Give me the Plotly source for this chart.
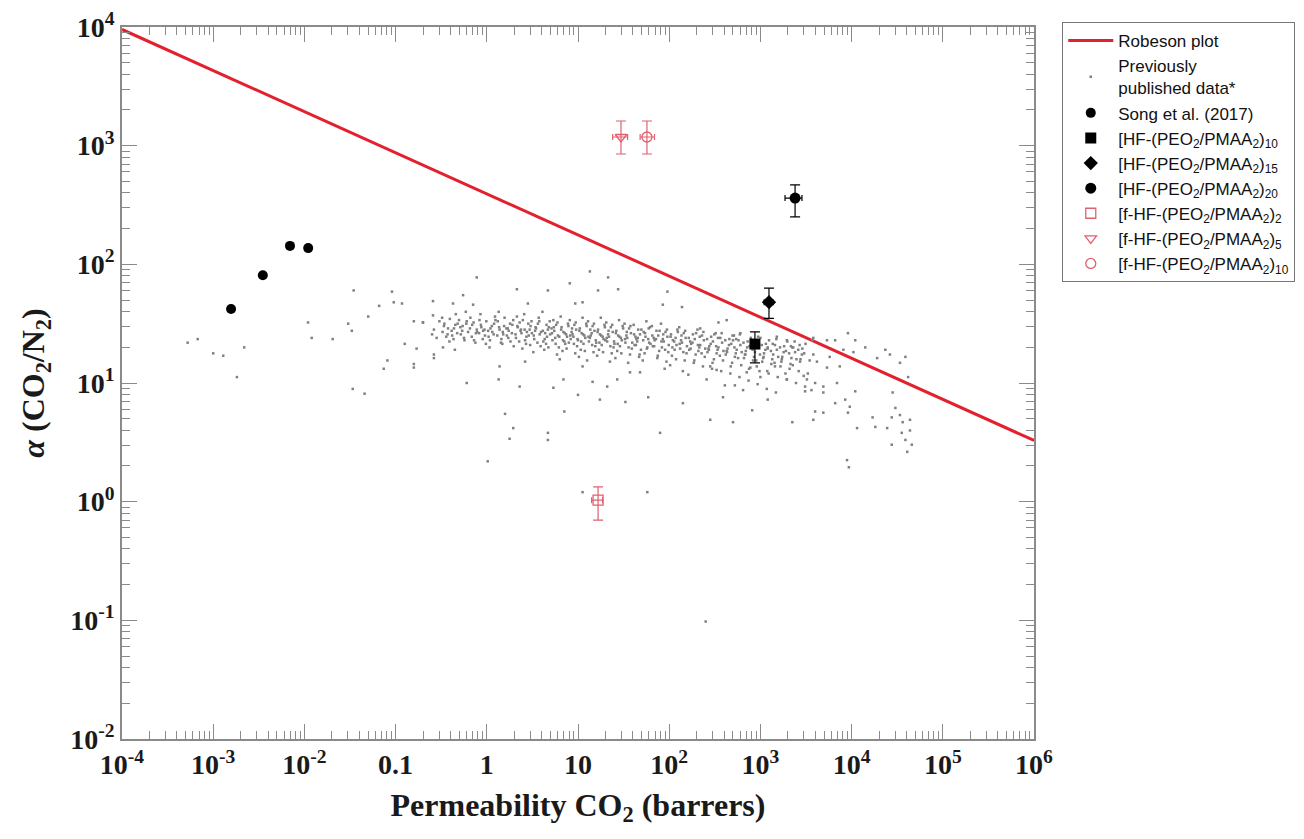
import plotly.graph_objects as go

# ---------------- data ----------------
robeson_perm = [1e-4, 1e6]
robeson_alpha = [9530, 3.28]

# previously published data (log10 values)
prev_log_perm = [
    -3.28, -3.17, -3.00, -2.89, -2.66, -2.74, -1.96, -1.92, -1.69, -1.52, -1.48, -1.46, -1.30, -1.18,
    -1.04, -1.02, -0.93, -0.80, -0.70, -0.90, -0.77, -1.09, -1.13, -0.80, -0.80, -1.47, -1.34,
    2.40, 1.76, 1.05, 0.01, 3.97,
    -0.59, -0.70, -0.59, -0.60, -0.58, -0.58, -0.48, -0.35, -0.22, -0.11, -0.26, -0.37, -0.15,
    0.14, 0.13, 0.20, 0.29, 0.25, 0.67, 0.67, 0.85, 1.00, 1.24, 1.52, 0.33, 0.67, 0.91, 1.13,
    1.22, 1.33, 1.44, 0.45, 0.97, 1.05, 0.36, 0.73, 0.84, 0.42, 1.05, 1.16, 1.32, 1.43, 1.57, 1.68,
    1.98, 2.14, 1.93, 2.34, 2.54, 2.63, 1.77, 2.15, 2.45, 2.70, 1.90, 3.08, 2.91, 3.35, 3.58,
    2.72, 2.59, 3.16, 3.29, 3.49, 3.51, 3.35, 3.43, 3.57, 3.29, 3.18, 3.08, 3.00, 2.78, 2.70,
    2.52, 2.45, 2.85, 3.00, 2.96,
    3.58, 3.73, 3.82, 3.96, 4.04, 4.15, 4.37, 4.42, 4.59, 4.28, 4.53, 4.02, 3.91, 3.76, 3.62,
    3.73, 3.87, 3.60, 3.69, 3.69, 3.84, 3.82, 3.93, 3.98, 4.04, 3.60, 3.69, 3.96, 4.06, 4.23,
    4.26, 4.44, 4.53, 4.56, 4.64, 4.48, 4.55, 4.59, 4.66, 4.44, 4.39, 4.64, 4.61, 4.45, 4.62, 3.95,
    -0.58, -0.52, -0.55,
    -0.47, -0.43, -0.49, -0.41,
    -0.36, -0.32, -0.38, -0.34,
    -0.27, -0.22, -0.25, -0.29, -0.23,
    -0.16, -0.12, -0.18, -0.14, -0.11,
    -0.06, -0.02, -0.08, -0.04, -0.01, -0.07,
    0.04, 0.08, 0.02, 0.06, 0.09, 0.03,
    0.14, 0.18, 0.12, 0.16, 0.19, 0.13, 0.17,
    0.24, 0.28, 0.22, 0.26, 0.29, 0.23,
    0.34, 0.38, 0.32, 0.36, 0.39, 0.33, 0.37,
    0.44, 0.48, 0.42, 0.46, 0.49, 0.43, 0.47, 0.41,
    0.54, 0.58, 0.52, 0.56, 0.59, 0.53, 0.57, 0.51,
    0.64, 0.68, 0.62, 0.66, 0.69, 0.63, 0.67, 0.61, 0.65,
    0.74, 0.78, 0.72, 0.76, 0.79, 0.73, 0.77, 0.71, 0.75,
    0.84, 0.88, 0.82, 0.86, 0.89, 0.83, 0.87, 0.81, 0.85, 0.80,
    0.94, 0.98, 0.92, 0.96, 0.99, 0.93, 0.97, 0.91, 0.95, 0.90,
    1.04, 1.08, 1.02, 1.06, 1.09, 1.03, 1.07, 1.01, 1.05, 1.00,
    1.14, 1.18, 1.12, 1.16, 1.19, 1.13, 1.17, 1.11, 1.15, 1.10,
    1.24, 1.28, 1.22, 1.26, 1.29, 1.23, 1.27, 1.21, 1.25, 1.20,
    1.34, 1.38, 1.32, 1.36, 1.39, 1.33, 1.37, 1.31, 1.35, 1.30,
    1.44, 1.48, 1.42, 1.46, 1.49, 1.43, 1.47, 1.41, 1.45, 1.40,
    1.54, 1.58, 1.52, 1.56, 1.59, 1.53, 1.57, 1.51, 1.55,
    1.64, 1.68, 1.62, 1.66, 1.69, 1.63, 1.67, 1.61, 1.65,
    1.74, 1.78, 1.72, 1.76, 1.79, 1.73, 1.77, 1.71, 1.75,
    1.84, 1.88, 1.82, 1.86, 1.89, 1.83, 1.87, 1.81,
    1.94, 1.98, 1.92, 1.96, 1.99, 1.93, 1.97, 1.91, 1.95,
    2.04, 2.08, 2.02, 2.06, 2.09, 2.03, 2.07, 2.01,
    2.14, 2.18, 2.12, 2.16, 2.19, 2.13, 2.17, 2.11, 2.15,
    2.24, 2.28, 2.22, 2.26, 2.29, 2.23, 2.27, 2.21,
    2.34, 2.38, 2.32, 2.36, 2.39, 2.33, 2.37, 2.31,
    2.44, 2.48, 2.42, 2.46, 2.49, 2.43, 2.47, 2.41,
    2.54, 2.58, 2.52, 2.56, 2.59, 2.53, 2.57, 2.51,
    2.64, 2.68, 2.62, 2.66, 2.69, 2.63, 2.67, 2.61,
    2.74, 2.78, 2.72, 2.76, 2.79, 2.73, 2.77, 2.71,
    2.84, 2.88, 2.82, 2.86, 2.89, 2.83, 2.87, 2.81,
    2.94, 2.98, 2.92, 2.96, 2.99, 2.93, 2.97,
    3.04, 3.08, 3.02, 3.06, 3.09, 3.03, 3.07,
    3.14, 3.18, 3.12, 3.16, 3.19, 3.13, 3.17,
    3.24, 3.28, 3.22, 3.26, 3.29, 3.23,
    3.34, 3.38, 3.32, 3.36, 3.39, 3.33,
    3.44, 3.48, 3.42, 3.46, 3.49,
    3.54, 3.58, 3.52, 3.56,
]
prev_log_alpha = [
    1.34, 1.37, 1.25, 1.23, 1.30, 1.05, 1.51, 1.38, 1.37, 1.50, 1.44, 1.78, 1.56, 1.65,
    1.77, 1.68, 1.67, 1.52, 1.51, 1.33, 1.29, 1.19, 1.12, 1.16, 1.13, 0.95, 0.91,
    -1.01, 0.08, 0.08, 0.34, 0.29,
    1.69, 1.51, 1.57, 1.41, 1.24, 1.21, 1.30, 1.28, 1.00, 1.89, 1.74, 1.67, 1.66,
    1.14, 1.03, 0.74, 0.62, 0.53, 0.58, 0.52, 0.76, 0.90, 0.86, 0.84, 1.79, 1.78, 1.84, 1.94,
    1.78, 1.89, 1.79, 1.67, 1.67, 1.68, 0.97, 0.96, 1.03, 1.18, 1.14, 1.01, 0.97, 1.03, 1.09, 1.09,
    1.77, 1.64, 1.66, 1.46, 1.51, 1.53, 0.88, 0.83, 0.69, 0.67, 0.58, 0.86, 0.77, 0.67, 0.69,
    0.98, 0.88, 1.14, 1.03, 0.93, 1.03, 1.30, 1.32, 1.36, 1.36, 1.39, 1.30, 1.38, 1.42, 1.36,
    1.11, 1.14, 1.09, 1.05, 1.14,
    1.38, 1.36, 1.36, 1.42, 1.36, 1.30, 1.28, 1.24, 1.22, 1.21, 1.17, 1.26, 1.28, 1.22, 1.18,
    1.13, 1.14, 1.00, 0.97, 0.92, 1.00, 0.83, 0.86, 0.80, 0.93, 0.76, 0.75, 0.75, 0.62, 0.71,
    0.63, 0.71, 0.73, 0.67, 0.69, 0.79, 0.58, 0.52, 0.48, 0.48, 0.62, 0.60, 0.42, 0.92, 1.05, 0.35,
    1.45, 1.52, 1.38,
    1.48, 1.41, 1.55, 1.35,
    1.46, 1.50, 1.40, 1.58,
    1.44, 1.52, 1.38, 1.47, 1.60,
    1.49, 1.42, 1.55, 1.36, 1.45,
    1.47, 1.40, 1.53, 1.44, 1.33, 1.58,
    1.46, 1.50, 1.39, 1.43, 1.56, 1.30,
    1.45, 1.41, 1.52, 1.37, 1.48, 1.60, 1.33,
    1.44, 1.49, 1.40, 1.35, 1.53, 1.46,
    1.47, 1.42, 1.38, 1.51, 1.29, 1.56, 1.44,
    1.43, 1.48, 1.36, 1.40, 1.52, 1.33, 1.45, 1.58,
    1.46, 1.41, 1.37, 1.50, 1.31, 1.44, 1.55, 1.26,
    1.42, 1.47, 1.35, 1.39, 1.52, 1.28, 1.45, 1.60, 1.33,
    1.44, 1.40, 1.36, 1.49, 1.30, 1.53, 1.24, 1.46, 1.38,
    1.43, 1.39, 1.47, 1.33, 1.50, 1.27, 1.41, 1.56, 1.35, 1.20,
    1.41, 1.45, 1.37, 1.49, 1.31, 1.43, 1.25, 1.53, 1.39, 1.34,
    1.42, 1.38, 1.46, 1.33, 1.50, 1.28, 1.40, 1.22, 1.55, 1.36,
    1.40, 1.44, 1.35, 1.48, 1.31, 1.38, 1.26, 1.52, 1.42, 1.19,
    1.41, 1.37, 1.45, 1.32, 1.49, 1.28, 1.39, 1.23, 1.55, 1.34,
    1.39, 1.43, 1.35, 1.47, 1.30, 1.41, 1.25, 1.51, 1.18, 1.36,
    1.40, 1.36, 1.44, 1.31, 1.48, 1.27, 1.38, 1.21, 1.53, 1.33,
    1.38, 1.42, 1.34, 1.46, 1.29, 1.40, 1.24, 1.50, 1.17,
    1.37, 1.41, 1.32, 1.45, 1.28, 1.39, 1.22, 1.49, 1.35,
    1.39, 1.34, 1.43, 1.30, 1.47, 1.25, 1.37, 1.19, 1.52,
    1.36, 1.40, 1.31, 1.44, 1.27, 1.38, 1.21, 1.48,
    1.35, 1.39, 1.30, 1.43, 1.26, 1.37, 1.18, 1.50, 1.12,
    1.36, 1.32, 1.41, 1.28, 1.45, 1.23, 1.38, 1.15,
    1.34, 1.38, 1.29, 1.42, 1.25, 1.36, 1.19, 1.47, 1.10,
    1.33, 1.37, 1.28, 1.41, 1.24, 1.35, 1.17, 1.07,
    1.32, 1.36, 1.27, 1.40, 1.22, 1.30, 1.14, 1.45,
    1.31, 1.35, 1.26, 1.39, 1.20, 1.29, 1.12, 1.03,
    1.30, 1.34, 1.25, 1.38, 1.19, 1.28, 1.10, 1.42,
    1.29, 1.33, 1.24, 1.37, 1.17, 1.27, 1.08, 0.98,
    1.28, 1.32, 1.22, 1.36, 1.15, 1.25, 1.05, 1.40,
    1.27, 1.31, 1.21, 1.35, 1.13, 1.24, 1.02, 0.94,
    1.26, 1.30, 1.19, 1.34, 1.10, 1.22, 0.99,
    1.25, 1.29, 1.18, 1.33, 1.08, 1.21, 0.95,
    1.24, 1.28, 1.16, 1.32, 1.05, 1.20, 0.92,
    1.22, 1.27, 1.14, 1.31, 1.03, 1.18,
    1.21, 1.26, 1.12, 1.30, 1.00, 1.16,
    1.20, 1.25, 1.10, 1.29, 0.97,
    1.19, 1.24, 1.08, 0.94,
]

# second layer of the dense band of previously published data (log10 values)
band_log_perm = [
    -0.485, -0.465, -0.445, -0.425, -0.405,
    -0.385, -0.365, -0.345, -0.325, -0.305,
    -0.285, -0.265, -0.245, -0.225, -0.205,
    -0.185, -0.165, -0.145, -0.125, -0.105,
    -0.085, -0.065, -0.045, -0.025, -0.005,
    0.015, 0.035, 0.055, 0.075, 0.095,
    0.115, 0.135, 0.155, 0.175, 0.195,
    0.215, 0.235, 0.255, 0.275, 0.295,
    0.315, 0.335, 0.355, 0.375, 0.395,
    0.415, 0.435, 0.455, 0.475, 0.495,
    0.515, 0.535, 0.555, 0.575, 0.595,
    0.615, 0.635, 0.655, 0.675, 0.695,
    0.715, 0.735, 0.755, 0.775, 0.795,
    0.815, 0.835, 0.855, 0.875, 0.895,
    0.915, 0.935, 0.955, 0.975, 0.995,
    1.015, 1.035, 1.055, 1.075, 1.095,
    1.115, 1.135, 1.155, 1.175, 1.195,
    1.215, 1.235, 1.255, 1.275, 1.295,
    1.315, 1.335, 1.355, 1.375, 1.395,
    1.415, 1.435, 1.455, 1.475, 1.495,
    1.515, 1.535, 1.555, 1.575, 1.595,
    1.615, 1.635, 1.655, 1.675, 1.695,
    1.715, 1.735, 1.755, 1.775, 1.795,
    1.815, 1.835, 1.855, 1.875, 1.895,
    1.915, 1.935, 1.955, 1.975, 1.995,
    2.015, 2.035, 2.055, 2.075, 2.095,
    2.115, 2.135, 2.155, 2.175, 2.195,
    2.215, 2.235, 2.255, 2.275, 2.295,
    2.315, 2.335, 2.355, 2.375, 2.395,
    2.415, 2.435, 2.455, 2.475, 2.495,
    2.515, 2.535, 2.555, 2.575, 2.595,
    2.615, 2.635, 2.655, 2.675, 2.695,
    2.715, 2.735, 2.755, 2.775, 2.795,
    2.815, 2.835, 2.855, 2.875, 2.895,
    2.915, 2.935, 2.955, 2.975, 2.995,
    3.015, 3.035, 3.055, 3.075, 3.095,
    3.115, 3.135, 3.155, 3.175, 3.195,
    3.215, 3.235, 3.255, 3.275, 3.295,
    3.315, 3.335, 3.355, 3.375, 3.395,
    3.415, 3.435, 3.455, 3.475, 3.495,
]
band_log_alpha = [
    1.43, 1.50, 1.39, 1.46, 1.54,
    1.44, 1.37, 1.49, 1.42, 1.53,
    1.41, 1.48, 1.36, 1.50, 1.43,
    1.46, 1.39, 1.51, 1.34, 1.43,
    1.42, 1.49, 1.37, 1.45, 1.52,
    1.44, 1.36, 1.48, 1.41, 1.53,
    1.40, 1.47, 1.34, 1.43, 1.55,
    1.46, 1.38, 1.50, 1.42, 1.31,
    1.41, 1.48, 1.35, 1.45, 1.53,
    1.45, 1.39, 1.50, 1.32, 1.42,
    1.40, 1.47, 1.34, 1.52, 1.43,
    1.44, 1.37, 1.49, 1.30, 1.41,
    1.42, 1.47, 1.33, 1.51, 1.39,
    1.45, 1.36, 1.42, 1.29, 1.48,
    1.40, 1.46, 1.33, 1.51, 1.37,
    1.44, 1.35, 1.41, 1.27, 1.48,
    1.39, 1.45, 1.32, 1.50, 1.36,
    1.43, 1.34, 1.40, 1.26, 1.47,
    1.38, 1.44, 1.31, 1.49, 1.35,
    1.42, 1.33, 1.39, 1.25, 1.46,
    1.37, 1.43, 1.30, 1.48, 1.34,
    1.41, 1.32, 1.38, 1.24, 1.45,
    1.36, 1.42, 1.29, 1.46, 1.33,
    1.40, 1.31, 1.37, 1.23, 1.44,
    1.35, 1.41, 1.28, 1.45, 1.32,
    1.39, 1.30, 1.35, 1.20, 1.43,
    1.33, 1.40, 1.26, 1.44, 1.31,
    1.38, 1.29, 1.34, 1.19, 1.42,
    1.32, 1.39, 1.25, 1.43, 1.29,
    1.37, 1.28, 1.33, 1.17, 1.41,
    1.31, 1.38, 1.23, 1.42, 1.27,
    1.36, 1.26, 1.32, 1.14, 1.40,
    1.30, 1.37, 1.21, 1.41, 1.26,
    1.34, 1.24, 1.30, 1.12, 1.38,
    1.28, 1.35, 1.19, 1.39, 1.24,
    1.32, 1.22, 1.28, 1.10, 1.36,
    1.27, 1.33, 1.17, 1.37, 1.22,
    1.30, 1.20, 1.26, 1.08, 1.35,
    1.25, 1.31, 1.15, 1.35, 1.20,
    1.28, 1.18, 1.24, 1.06, 1.33,
]

song_perm = [1.57e-3, 3.5e-3, 6.95e-3, 0.011]
song_alpha = [42, 81, 143, 137]

hf_names = ["[HF-(PEO<sub>2</sub>/PMAA<sub>2</sub>)<sub>10</sub>",
            "[HF-(PEO<sub>2</sub>/PMAA<sub>2</sub>)<sub>15</sub>",
            "[HF-(PEO<sub>2</sub>/PMAA<sub>2</sub>)<sub>20</sub>"]
hf_perm = [871, 1242, 2400]
hf_perm_lo = [809, 1100, 1862]
hf_perm_hi = [942, 1380, 2857]
hf_alpha = [21.3, 48, 362]
hf_alpha_lo = [14.8, 35, 251]
hf_alpha_hi = [27, 63, 467]
hf_symbols = ["square", "diamond", "circle"]

fhf_names = ["[f-HF-(PEO<sub>2</sub>/PMAA<sub>2</sub>)<sub>2</sub>",
             "[f-HF-(PEO<sub>2</sub>/PMAA<sub>2</sub>)<sub>5</sub>",
             "[f-HF-(PEO<sub>2</sub>/PMAA<sub>2</sub>)<sub>10</sub>"]
fhf_perm = [16.6, 29.6, 57]
fhf_perm_lo = [14.1, 24, 48]
fhf_perm_hi = [18.6, 35, 69]
fhf_alpha = [1.03, 1183, 1183]
fhf_alpha_lo = [0.70, 851, 851]
fhf_alpha_hi = [1.33, 1614, 1614]
fhf_symbols = ["square-open", "triangle-down-open", "circle-open"]

x_tickvals = [1e-4, 1e-3, 1e-2, 0.1, 1, 10, 1e2, 1e3, 1e4, 1e5, 1e6]
x_ticktext = ["10<sup>-4</sup>", "10<sup>-3</sup>", "10<sup>-2</sup>", "0.1", "1", "10",
              "10<sup>2</sup>", "10<sup>3</sup>", "10<sup>4</sup>", "10<sup>5</sup>", "10<sup>6</sup>"]
y_tickvals = [1e-2, 1e-1, 1, 10, 1e2, 1e3, 1e4]
y_ticktext = ["10<sup>-2</sup>", "10<sup>-1</sup>", "10<sup>0</sup>", "10<sup>1</sup>",
              "10<sup>2</sup>", "10<sup>3</sup>", "10<sup>4</sup>"]

# ---------------- figure ----------------
fig = go.Figure()

fig.add_trace(go.Scatter(x=robeson_perm, y=robeson_alpha, mode="lines",
                         line=dict(color="#e3202e", width=3), name="Robeson plot"))

all_prev_perm = [10 ** v for v in prev_log_perm + band_log_perm]
all_prev_alpha = [10 ** v for v in prev_log_alpha + band_log_alpha]
fig.add_trace(go.Scatter(x=all_prev_perm, y=all_prev_alpha,
                         mode="markers", marker=dict(color="#808080", size=2.5, symbol="square"),
                         name="Previously<br>published data*"))

fig.add_trace(go.Scatter(x=song_perm, y=song_alpha, mode="markers",
                         marker=dict(color="black", size=10), name="Song et al. (2017)"))

for i in range(3):
    fig.add_trace(go.Scatter(
        x=[hf_perm[i]], y=[hf_alpha[i]], mode="markers", name=hf_names[i],
        marker=dict(color="black", size=11, symbol=hf_symbols[i]),
        error_y=dict(type="data", symmetric=False,
                     array=[hf_alpha_hi[i] - hf_alpha[i]], arrayminus=[hf_alpha[i] - hf_alpha_lo[i]],
                     color="black", thickness=1.2, width=5),
        error_x=dict(type="data", symmetric=False,
                     array=[hf_perm_hi[i] - hf_perm[i]], arrayminus=[hf_perm[i] - hf_perm_lo[i]],
                     color="black", thickness=1.2, width=3)))

for i in range(3):
    fig.add_trace(go.Scatter(
        x=[fhf_perm[i]], y=[fhf_alpha[i]], mode="markers", name=fhf_names[i],
        marker=dict(color="#e06070", size=10, symbol=fhf_symbols[i], line=dict(width=1.3)),
        error_y=dict(type="data", symmetric=False,
                     array=[fhf_alpha_hi[i] - fhf_alpha[i]], arrayminus=[fhf_alpha[i] - fhf_alpha_lo[i]],
                     color="#e06070", thickness=1.2, width=5),
        error_x=dict(type="data", symmetric=False,
                     array=[fhf_perm_hi[i] - fhf_perm[i]], arrayminus=[fhf_perm[i] - fhf_perm_lo[i]],
                     color="#e06070", thickness=1.2, width=3)))

axis_common = dict(
    type="log", showgrid=False, zeroline=False,
    showline=True, linecolor="#8a8a8a", linewidth=1.5, mirror="allticks",
    ticks="inside", ticklen=15, tickwidth=1, tickcolor="#8a8a8a",
    tickmode="array",
    tickfont=dict(family="Liberation Serif", size=28, color="#1a1a1a", weight="bold"),
    minor=dict(ticks="inside", ticklen=8, tickcolor="#8a8a8a", dtick="D1", showgrid=False),
)

fig.update_xaxes(**axis_common, range=[-4, 6], tickvals=x_tickvals, ticktext=x_ticktext,
                 title=dict(text="Permeability CO<sub>2</sub> (barrers)",
                            font=dict(family="Liberation Serif", size=32, color="#1a1a1a", weight="bold"),
                            standoff=14))
fig.update_yaxes(**axis_common, range=[-2, 4], tickvals=y_tickvals, ticktext=y_ticktext,
                 title=dict(text="<i>α</i> (CO<sub>2</sub>/N<sub>2</sub>)",
                            font=dict(family="Liberation Serif", size=32, color="#1a1a1a", weight="bold"),
                            standoff=16))

fig.update_layout(
    width=1304, height=839,
    margin=dict(l=122, r=270, t=27, b=100, autoexpand=False),
    plot_bgcolor="white", paper_bgcolor="white",
    legend=dict(x=1.031, y=1.007, xanchor="left", yanchor="top",
                font=dict(family="Liberation Sans", size=17, color="#111"),
                bordercolor="#777", borderwidth=1, bgcolor="white",
                itemwidth=45, tracegroupgap=0),
    showlegend=True,
)

fig.write_html("out.html")
